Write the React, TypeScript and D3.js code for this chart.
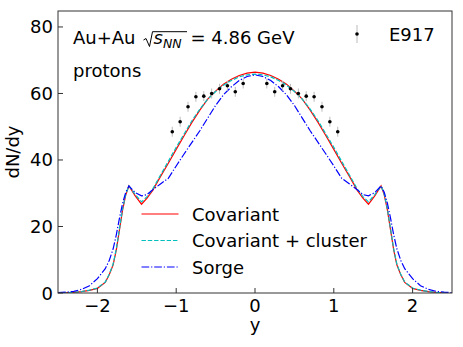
import React from 'react';
import * as d3 from 'd3';

// rapidity grid for the model curves
const yGrid = [
  -2.45, -2.3, -2.2, -2.1, -2.0, -1.9, -1.85, -1.8, -1.76, -1.72, -1.68, -1.64, -1.6, -1.52, -1.44, -1.37,
  -1.3, -1.2, -1.1, -1.0, -0.9, -0.8, -0.7, -0.6, -0.5, -0.4, -0.3, -0.2, -0.1, 0,
  0.1, 0.2, 0.3, 0.4, 0.5, 0.6, 0.7, 0.8, 0.9, 1.0, 1.1, 1.2, 1.3,
  1.37, 1.44, 1.52, 1.6, 1.64, 1.68, 1.72, 1.76, 1.8, 1.85, 1.9, 2.0, 2.1, 2.2, 2.3, 2.45,
];

const covariant = [
  0.05, 0.2, 0.4, 0.8, 1.4, 3.2, 5.5, 8.5, 13, 19, 25, 29.5, 32.2, 29.2, 26.7, 28.5,
  30.8, 35, 39, 43.2, 47.3, 51.3, 55, 58.3, 60.7, 62.8, 64.3, 65.4, 66.1, 66.4,
  66.1, 65.4, 64.3, 62.8, 60.7, 58.3, 55, 51.3, 47.3, 43.2, 39, 35, 30.8,
  28.5, 26.7, 29.2, 32.2, 29.5, 25, 19, 13, 8.5, 5.5, 3.2, 1.4, 0.8, 0.4, 0.2, 0.05,
];

const covariantCluster = [
  0.05, 0.2, 0.45, 0.85, 1.5, 3.3, 5.6, 8.7, 13.3, 19.3, 25.3, 29.7, 32.2, 29.6, 27.4, 29,
  31.2, 35.4, 39.6, 43.8, 47.8, 51.8, 55.3, 58.3, 60.6, 62.5, 63.9, 65, 65.6, 65.8,
  65.6, 65, 63.9, 62.5, 60.6, 58.3, 55.3, 51.8, 47.8, 43.8, 39.6, 35.4, 31.2,
  29, 27.4, 29.6, 32.2, 29.7, 25.3, 19.3, 13.3, 8.7, 5.6, 3.3, 1.5, 0.85, 0.45, 0.2, 0.05,
];

const sorgeGrid = [
  -2.5, -2.4, -2.3, -2.2, -2.1, -2.0, -1.9, -1.85, -1.8, -1.76, -1.72, -1.68, -1.64, -1.6, -1.52, -1.44, -1.37,
  -1.3, -1.2, -1.1, -1.0, -0.9, -0.8, -0.7, -0.6, -0.5, -0.4, -0.3, -0.2, -0.1, 0,
  0.1, 0.2, 0.3, 0.4, 0.5, 0.6, 0.7, 0.8, 0.9, 1.0, 1.1, 1.2, 1.3,
  1.37, 1.44, 1.52, 1.6, 1.64, 1.68, 1.72, 1.76, 1.8, 1.85, 1.9, 2.0, 2.1, 2.2, 2.3, 2.4, 2.5,
];

const sorge = [
  0.1, 0.25, 0.5, 1.1, 2.2, 4.3, 7.3, 9.8, 13.3, 17.5, 22.5, 27, 30.3, 32.2, 30.2, 29.2, 29.6,
  31, 32.8, 34.5, 38.2, 41.8, 45.3, 48.8, 52.6, 56.4, 59.6, 62, 63.9, 65.1, 65.6,
  65.1, 63.9, 62, 59.6, 56.4, 52.6, 48.8, 45.3, 41.8, 38.2, 34.5, 32.8, 31,
  29.6, 29.2, 30.2, 32.2, 30.3, 27, 22.5, 17.5, 13.3, 9.8, 7.3, 4.3, 2.2, 1.1, 0.5, 0.25, 0.1,
];

// E917 data
const e917Y = [-1.05, -0.95, -0.85, -0.75, -0.65, -0.55, -0.45, -0.35, -0.25, -0.15,
  0.15, 0.25, 0.35, 0.45, 0.55, 0.65, 0.75, 0.85, 0.95, 1.05];
const e917Val = [48.5, 51.5, 56, 59, 59.2, 60, 61.4, 62.3, 60.5, 63,
  63, 60.5, 62.3, 61.4, 60, 59.2, 59, 56, 51.5, 48.5];
const e917Err = [1.5, 1.5, 1.5, 1.5, 1.5, 1.5, 1.5, 1.5, 1.5, 1.5,
  1.5, 1.5, 1.5, 1.5, 1.5, 1.5, 1.5, 1.5, 1.5, 1.5];

const xTicks = [-2, -1, 0, 1, 2];
const yTicks = [0, 20, 40, 60, 80];

const legendItems = [
  { label: 'Covariant', color: '#ff0000', dash: undefined },
  { label: 'Covariant + cluster', color: '#00bfbf', dash: '4.4,1.9' },
  { label: 'Sorge', color: '#0000ff', dash: '7.7,1.9,1.2,1.9' },
];

const W = 463;
const H = 347;
const margin = { top: 11, right: 11, bottom: 54, left: 58 };
const font = 'DejaVu Sans, sans-serif';
const fs = 18;

export default function App() {
  const x = d3.scaleLinear().domain([-2.5, 2.5]).range([margin.left, W - margin.right]);
  const y = d3.scaleLinear().domain([0, 84.8]).range([H - margin.bottom, margin.top]);

  const line = d3.line<[number, number]>()
    .x(d => x(d[0]))
    .y(d => y(d[1]));

  const series = [
    { xs: yGrid, vs: covariant, ...legendItems[0] },
    { xs: yGrid, vs: covariantCluster, ...legendItems[1] },
    { xs: sorgeGrid, vs: sorge, ...legendItems[2] },
  ];

  const x0 = margin.left;
  const x1 = W - margin.right;
  const y0 = H - margin.bottom;
  const y1 = margin.top;

  return (
    <div style={{ position: 'fixed', left: 0, top: 0 }}>
      <svg width={W} height={H} style={{ display: 'block', background: '#fff' }} fontFamily={font}>
        <defs>
          <clipPath id="plot">
            <rect x={x0} y={y1} width={x1 - x0} height={y0 - y1} />
          </clipPath>
        </defs>

        <g clipPath="url(#plot)">
          {series.map(s => (
            <path
              key={s.label}
              d={line(s.xs.map((v, i) => [v, s.vs[i]] as [number, number])) || ''}
              fill="none"
              stroke={s.color}
              strokeWidth={1.2}
              strokeDasharray={s.dash}
            />
          ))}
          {e917Y.map((v, i) => (
            <g key={i}>
              <line x1={x(v)} x2={x(v)} y1={y(e917Val[i] - e917Err[i])} y2={y(e917Val[i] + e917Err[i])}
                stroke="#bbb" strokeWidth={1} />
              <circle cx={x(v)} cy={y(e917Val[i])} r={1.8} fill="#000" />
            </g>
          ))}
        </g>

        {/* axes */}
        <rect x={x0} y={y1} width={x1 - x0} height={y0 - y1} fill="none" stroke="#333" strokeWidth={1} />
        {xTicks.map(t => (
          <g key={t}>
            <line x1={x(t)} x2={x(t)} y1={y0} y2={y0 - 5} stroke="#333" />
            <text x={x(t)} y={312} textAnchor="middle" fontSize={fs}>{t < 0 ? '\u2212' + Math.abs(t) : t}</text>
          </g>
        ))}
        {yTicks.map(t => (
          <g key={t}>
            <line x1={x0} x2={x0 + 5} y1={y(t)} y2={y(t)} stroke="#333" />
            <text x={53} y={y(t) + 6.5} textAnchor="end" fontSize={fs}>{t}</text>
          </g>
        ))}
        <text x={255} y={331} textAnchor="middle" fontSize={fs}>y</text>
        <text transform={`translate(19,${(y0 + y1) / 2}) rotate(-90)`} textAnchor="middle" fontSize={fs}>dN/dy</text>

        {/* annotation */}
        <text x={73} y={44} fontSize={fs}>Au+Au</text>
        <path d="M143.5,40 L146,38.5 L149.5,46.5 L152.5,31.7 L187,31.7" fill="none" stroke="#000" strokeWidth={1} />
        <text x={153.5} y={44} fontSize={fs} fontStyle="italic">s</text>
        <text x={163} y={47.5} fontSize={12.5} fontStyle="italic">NN</text>
        <text x={190.5} y={44} fontSize={fs}>= 4.86 GeV</text>
        <text x={73} y={77} fontSize={fs}>protons</text>

        {/* E917 legend */}
        <line x1={357} x2={357} y1={25} y2={43} stroke="#bbb" />
        <circle cx={357} cy={34} r={1.8} fill="#000" />
        <text x={389} y={41} fontSize={fs}>E917</text>

        {/* model legend */}
        {legendItems.map((d, i) => (
          <g key={d.label}>
            <line x1={141.5} x2={178.5} y1={214 + i * 26.5} y2={214 + i * 26.5}
              stroke={d.color} strokeWidth={1.2} strokeDasharray={d.dash} />
            <text x={192} y={220.5 + i * 26.5} fontSize={fs}>{d.label}</text>
          </g>
        ))}
      </svg>
    </div>
  );
}
